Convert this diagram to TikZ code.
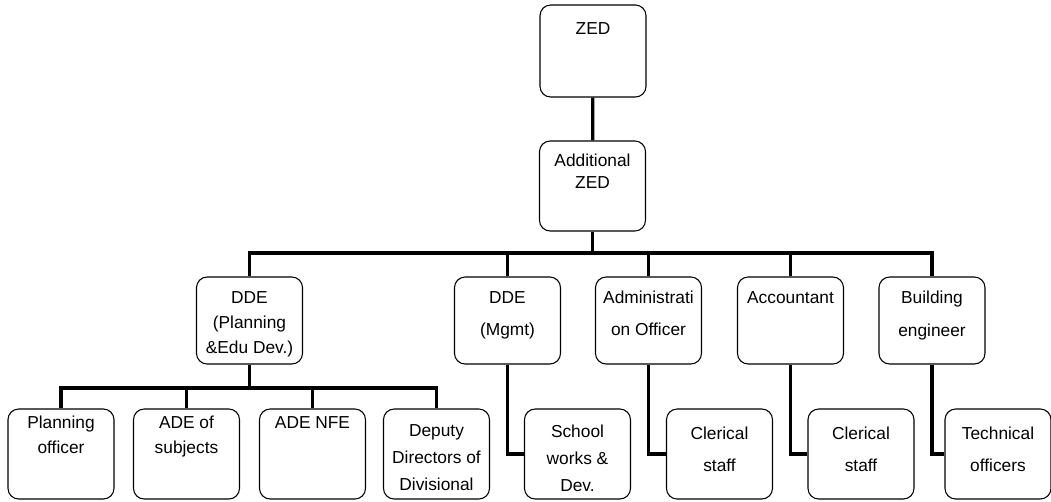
\documentclass[tikz,border=0pt]{standalone}
\usepackage{fontspec}
\setmainfont{Liberation Sans}
\usepackage{tikz}

\newcommand{\boxtext}[3]{\parbox[c][#1][t]{79.5pt}{\centering\rule{0pt}{#2}#3}}

\tikzset{
  unit/.style={draw, rounded corners=8pt, line width=0.8pt, inner sep=0pt,
    font=\fontsize{13}{19}\selectfont},
  link/.style={line width=2.4pt},
}

\begin{document}
\begin{tikzpicture}[x=0.75pt,y=-0.75pt]
\useasboundingbox (0,0) rectangle (1051,501);

\node[unit] (zed) at (593,51) {\boxtext{69pt}{21.75pt}{ZED}};
\node[unit] (addzed) at (592.5,186) {\boxtext{67.5pt}{18.75pt}{Additional\\[-2.5pt]ZED}};



\node[unit] (ddeplan) at (249.5,320.5) {\boxtext{65.25pt}{19.5pt}{DDE\\(Planning\\\&Edu Dev.)}};
\node[unit] (ddemgmt) at (507.5,320.5) {\boxtext{65.25pt}{19.5pt}{DDE\\[5pt](Mgmt)}};
\node[unit] (adminoff) at (648.5,320.5) {\boxtext{65.25pt}{19.5pt}{Administrati\\[5pt]on Officer}};
\node[unit] (account) at (790.5,320.5) {\boxtext{65.25pt}{19.5pt}{Accountant}};
\node[unit] (buildeng) at (932,320.5) {\boxtext{65.25pt}{19.5pt}{Building\\[6pt]engineer}};



\node[unit] (planoff) at (61,454) {\boxtext{67.5pt}{14.25pt}{Planning\\officer}};
\node[unit] (adesubj) at (186.5,454) {\boxtext{67.5pt}{14.25pt}{ADE of\\subjects}};
\node[unit] (adenfe) at (312.5,454) {\boxtext{67.5pt}{14.25pt}{ADE NFE}};
\node[unit] (deputy) at (436.5,454) {\boxtext{67.5pt}{20.25pt}{Deputy\\[1.5pt]Directors of\\[1.5pt]Divisional}};

\node[unit] (school) at (577.5,454) {\boxtext{67.5pt}{21pt}{School\\[1.5pt]works \&\\[1.5pt]Dev.}};
\node[unit] (clerka) at (719.5,454) {\boxtext{67.5pt}{22.5pt}{Clerical\\[5pt]staff}};
\node[unit] (clerkb) at (861,454) {\boxtext{67.5pt}{22.5pt}{Clerical\\[5pt]staff}};
\node[unit] (techoff) at (998,454) {\boxtext{67.5pt}{22.5pt}{Technical\\[5.5pt]officers}};


\coordinate (topbus) at (592.5,253);
\coordinate (lowbus) at (249.5,388);

\draw[link] (zed) -- (addzed);
\draw[link] (addzed) -- (topbus);

\foreach \b in {ddeplan,ddemgmt,adminoff,account,buildeng}
{
	\draw[link] (topbus) -| (\b.north);
}

\draw[link] (ddeplan) -- (lowbus);
\foreach \b in {planoff,adesubj,adenfe,deputy}
{
	\draw[link] (lowbus) -| (\b.north);
}

\draw[link] (ddemgmt) |- (school);
\draw[link] (adminoff) |- (clerka);
\draw[link] (account) |- (clerkb);
\draw[link] (buildeng) |- (techoff);

\end{tikzpicture}
\end{document}
